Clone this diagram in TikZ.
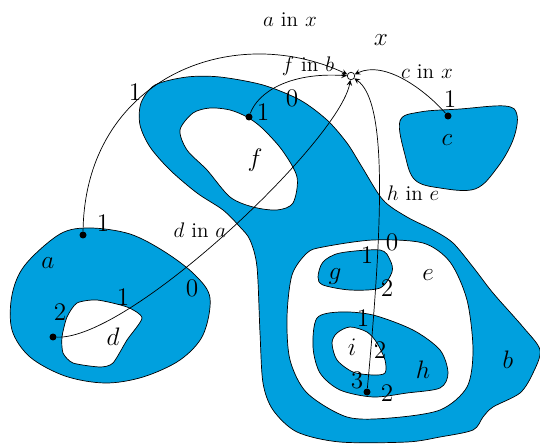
\documentclass[tikz,border=0pt]{standalone}
\usepackage{tikz}
\usepackage{xcolor}
\definecolor{regblue}{RGB}{0,160,222}

\begin{document}
\begin{tikzpicture}[x=0.02cm, y=-0.02cm, >=stealth,
    every node/.style={font=\large},
    region/.style={draw, fill=regblue, even odd rule},
    dot/.style={circle, fill, inner sep=0pt, minimum size=0.14cm},
    num/.style={font=\Large},
    lab/.style={font=\Large}]
  \useasboundingbox (0,0) rectangle (540,445);

  % regions
  \draw[region] plot[smooth cycle, tension=0.5] coordinates {(141,103) (155,85) (187,77) (220,77) (263,85) (300,100)
      (327,120) (347,143) (362,167) (383,200) (407,217) (433,230) (453,243) (473,267) (493,293)
      (523,327) (540,350) (533,373) (520,393) (493,407) (483,417) (473,430) (440,437) (407,442)
      (340,442) (297,432) (273,410) (263,383) (260,333) (257,267) (250,240) (240,227) (223,210)
      (197,193) (170,170) (150,147) (140,125)}
    plot[smooth cycle, tension=0.5] coordinates {(180,130) (193,113) (210,108) (230,110) (247,117) (262,128)
      (282,150) (297,177) (293,203) (277,210) (253,207) (230,197) (207,170) (187,150)}
    plot[smooth cycle, tension=0.5] coordinates {(307,253) (323,247) (373,240) (423,243) (450,262) (467,300)
      (473,350) (467,387) (440,410) (390,418) (347,417) (307,393) (290,360) (287,317) (292,275)};
  \draw[region] plot[smooth cycle, tension=0.5] coordinates {(318,277) (323,262) (340,253) (380,250) (390,260)
      (392,272) (380,288) (350,290) (323,285)};
  \draw[region] plot[smooth cycle, tension=0.5] coordinates {(313,347) (317,318) (340,312) (373,315) (413,330)
      (440,350) (448,373) (440,388) (407,393) (373,397) (340,390) (320,373)}
    plot[smooth cycle, tension=0.5] coordinates {(332,343) (337,333) (350,327) (367,332) (377,343) (385,360)
      (385,373) (373,375) (353,372) (337,360)};
  \draw[region] plot[smooth cycle, tension=0.55] coordinates {(60,234) (90,228) (130,234) (165,252)
      (195,275) (210,298) (203,335) (180,360) (143,377) (105,383) (65,376) (30,357) (12,330)
      (12,295) (25,265)}
    plot[smooth cycle, tension=0.4] coordinates {(67,317) (77,303) (97,300) (127,307) (142,318)
      (127,340) (113,363) (100,367) (73,363) (63,353) (62,337)};
  \draw[region] plot[smooth cycle, tension=0.6] coordinates {(400,121) (420,112) (460,109) (505,106)
      (517,115) (513,140) (497,168) (475,189) (440,188) (415,180) (405,155)};

  % points
  \node[draw, circle, fill=white, inner sep=0pt, minimum size=0.15cm] (X) at (351,76) {};
  \node[dot] (pa) at (83,235) {};
  \node[dot] (pf) at (249,117) {};
  \node[dot] (pc) at (448,116) {};
  \node[dot] (pd) at (53,337) {};
  \node[dot] (ph) at (367,392) {};

  % inclusions
  \draw[->] (pa) .. controls (85,80) and (230,20) .. (X);
  \draw[->] (pf) .. controls (258,92) and (290,72) .. (X);
  \draw[->] (pc) .. controls (425,90) and (385,60) .. (X);
  \draw[->] (pd) .. controls (130,340) and (340,140) .. (X);
  \draw[->] (ph) .. controls (385,200) and (385,100) .. (X);

  % labels
  \node (lax) at (290,20) {$a$ in $x$};
  \node (lfb) at (308,66) {$f$ in $b$};
  \node (lcx) at (427,72) {$c$ in $x$};
  \node (lhe) at (413,193) {$h$ in $e$};
  \node (lda) at (200,230) {$d$ in $a$};
  \node[font=\Large] (nx) at (381,40) {$x$};

  \node[lab] (na) at (48,263) {$a$};
  \node[lab] (nb) at (508,360) {$b$};
  \node[lab] (nc) at (447,140) {$c$};
  \node[lab] (nd) at (113,337) {$d$};
  \node[lab] (ne) at (428,275) {$e$};
  \node[lab] (nf) at (255,160) {$f$};
  \node[lab] (ng) at (335,277) {$g$};
  \node[lab] (nh) at (423,370) {$h$};
  \node[lab] (ni) at (352,347) {$i$};

  \node[num] at (135,92) {1};
  \node[num] at (103,223) {1};
  \node[num] at (263,112) {1};
  \node[num] at (292,98) {0};
  \node[num] at (450,99) {1};
  \node[num] at (192,288) {0};
  \node[num] at (123,297) {1};
  \node[num] at (60,312) {2};
  \node[num] at (392,242) {0};
  \node[num] at (367,255) {1};
  \node[num] at (387,288) {2};
  \node[num] at (363,318) {1};
  \node[num] at (380,350) {2};
  \node[num] at (357,380) {3};
  \node[num] at (387,393) {2};
\end{tikzpicture}
\end{document}
